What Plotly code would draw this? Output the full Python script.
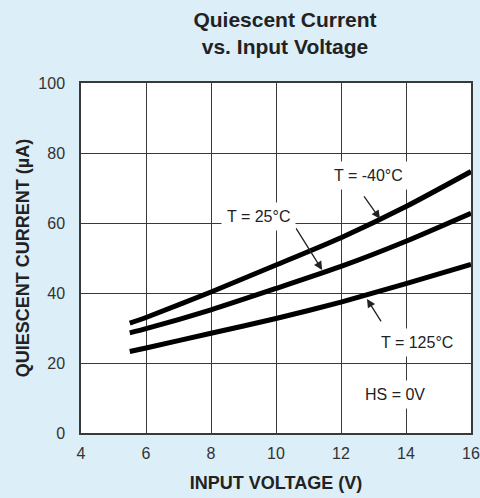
import plotly.graph_objects as go

voltage = [5.5, 6, 8, 10, 12, 14, 16]
i_m40 = [31.4, 33.0, 40.3, 48.0, 55.8, 64.7, 74.7]
i_25 = [28.6, 29.8, 35.2, 41.3, 47.6, 54.8, 62.8]
i_125 = [23.3, 24.3, 28.5, 32.7, 37.4, 42.7, 48.2]

x_ticks = [4, 6, 8, 10, 12, 14, 16]
y_ticks = [0, 20, 40, 60, 80, 100]

FONT = "Liberation Sans, Arial, sans-serif"
BG = "#DCEEF8"
GRID = "#3a3a3a"

fig = go.Figure()
for ys in (i_m40, i_25, i_125):
    fig.add_trace(go.Scatter(x=voltage, y=ys, mode="lines",
                             line=dict(color="black", width=5, shape="spline", smoothing=0.6),
                             showlegend=False, hoverinfo="skip"))

annotations = []
# arrows (head on the curve, tail offset in px)
arrows = [
    (13.2, 61.2, -17, -24),
    (11.42, 46.6, -27, -43),
    (12.8, 38.3, 15, 24),
]
for x, y, ax, ay in arrows:
    annotations.append(dict(x=x, y=y, xref="x", yref="y", text="", showarrow=True,
                            ax=ax, ay=ay, arrowhead=2, arrowsize=1.3, arrowwidth=1.3,
                            arrowcolor="#222"))
labels = [
    ("T = -40°C", 12.86, 73.7),
    ("T = 25°C", 9.47, 61.8),
    ("T = 125°C", 14.34, 26.0),
    ("HS = 0V", 13.66, 10.9),
]
for txt, x, y in labels:
    annotations.append(dict(x=x, y=y, xref="x", yref="y", text=txt, showarrow=False,
                            bgcolor="white", borderpad=5,
                            font=dict(family=FONT, size=16, color="#222")))

fig.update_layout(
    width=480, height=498,
    paper_bgcolor=BG, plot_bgcolor="white",
    margin=dict(l=81, r=9, t=83, b=65),
    font=dict(family=FONT, color="#333"),
    title=dict(text="<b>Quiescent Current<br>vs. Input Voltage</b>",
               xref="container", x=285/480, xanchor="center",
               yref="container", y=1 - 27/498, yanchor="middle",
               font=dict(family=FONT, size=21, color="#222")),
    annotations=annotations,
)
fig.update_xaxes(range=[4, 16], tickvals=x_ticks, showgrid=True, gridcolor=GRID, gridwidth=1.3,
                 showline=True, linecolor=GRID, linewidth=1.5, mirror=True, zeroline=False,
                 automargin=False,
                 ticks="", ticklabelstandoff=5, tickfont=dict(size=16, color="#333"),
                 title=dict(text="<b>INPUT VOLTAGE (V)</b>", standoff=15,
                            font=dict(size=18, color="#222")))
fig.update_yaxes(range=[0, 100], tickvals=y_ticks, showgrid=True, gridcolor=GRID, gridwidth=1.3,
                 showline=True, linecolor=GRID, linewidth=1.5, mirror=True, zeroline=False,
                 automargin=False,
                 ticks="", ticklabelstandoff=11, tickfont=dict(size=16, color="#333"),
                 title=dict(text="<b>QUIESCENT CURRENT (µA)</b>", standoff=4,
                            font=dict(size=18, color="#222")))

fig.write_html("out.html", config={"displayModeBar": False},
               post_script="document.body.style.margin='0';document.body.style.overflow='hidden';")
